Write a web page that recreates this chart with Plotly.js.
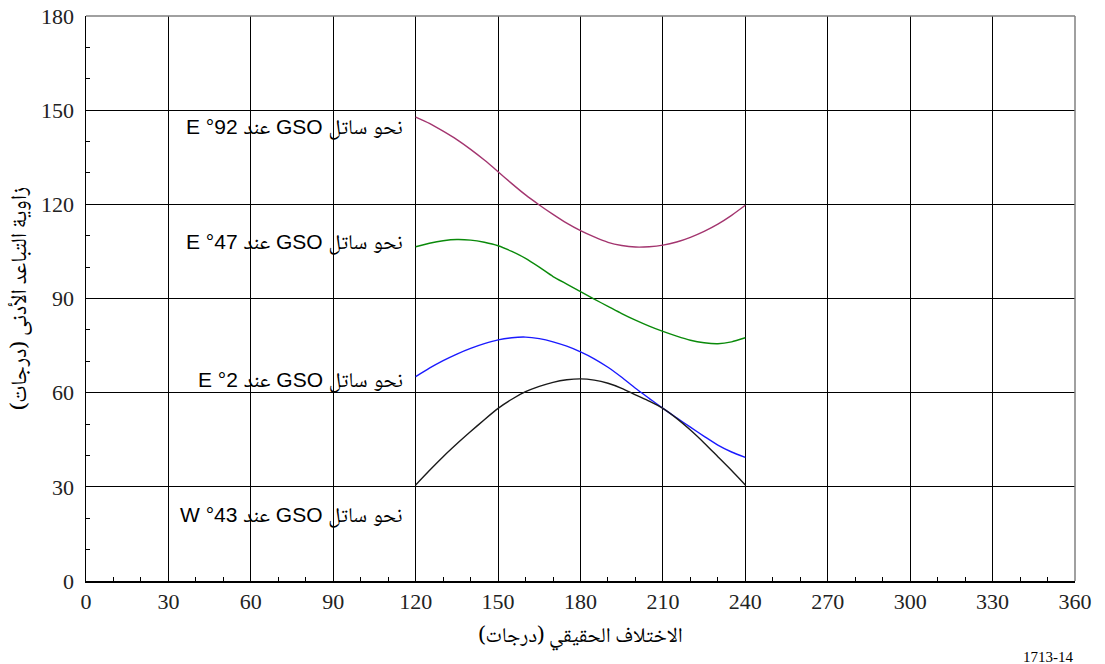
<!DOCTYPE html>
<html>
<head>
<meta charset="utf-8">
<script src="https://cdn.plot.ly/plotly-3.0.1.min.js"></script>
<style>html,body{margin:0;padding:0;background:#fff;}#chart{width:1105px;height:664px;}</style>
</head>
<body>
<div id="chart"></div>
<script>
// True anomaly (degrees)
const anomaly = [120, 125, 130, 135, 140, 145, 150, 155, 160, 165, 170, 175, 180, 185, 190, 195, 200, 205, 210, 215, 220, 225, 230, 235, 240];

// Minimum separation angle (degrees) towards each GSO satellite
const toward92E = [147.8, 145.8, 143.3, 140.6, 137.5, 134.1, 130.4, 126.6, 123.0, 119.8, 116.8, 114.0, 111.6, 109.6, 107.9, 106.9, 106.4, 106.5, 107.0, 108.0, 109.5, 111.4, 113.7, 116.5, 119.7];
const toward47E = [106.5, 107.6, 108.4, 108.8, 108.6, 107.9, 106.8, 105.0, 102.8, 100.0, 97.0, 94.6, 92.2, 89.8, 87.5, 85.2, 83.1, 81.2, 79.5, 78.0, 76.7, 75.9, 75.6, 76.2, 77.5];
const toward2E  = [65.1, 67.8, 70.2, 72.3, 74.1, 75.6, 76.8, 77.5, 77.7, 77.2, 76.2, 74.8, 73.0, 70.8, 68.1, 64.9, 61.4, 58.2, 55.0, 52.0, 49.0, 46.1, 43.3, 41.1, 39.4];
const toward43W = [30.6, 35.2, 39.6, 43.7, 47.6, 51.4, 55.0, 57.9, 60.3, 62.0, 63.3, 64.1, 64.4, 64.0, 63.0, 61.4, 59.3, 57.3, 55.0, 51.8, 48.1, 44.0, 39.6, 35.2, 30.6];

const seriesNames = ['نحو ساتل GSO عند 92° E', 'نحو ساتل GSO عند 47° E', 'نحو ساتل GSO عند 2° E', 'نحو ساتل GSO عند 43° W'];
const seriesLabelY = [144.6, 107.7, 64.0, 21.0];
const seriesColors = ['#A3356F', '#0A8A0A', '#1A1AFF', '#1A1A1A'];
const seriesData = [toward92E, toward47E, toward2E, toward43W];

const xTickVals = [0, 30, 60, 90, 120, 150, 180, 210, 240, 270, 300, 330, 360];
const yTickVals = [0, 30, 60, 90, 120, 150, 180];

const RLE = '\u202B', PDF = '\u202C';
const xTitle = 'الاختلاف الحقيقي (درجات)';
const yTitle = 'زاوية التباعد الأدنى (درجات)';
const figNote = '1713-14';

const arabicSerif = 'Noto Naskh Arabic, Noto Serif Arabic, Liberation Serif, DejaVu Sans, serif';

const traces = seriesData.map((ys, i) => ({
  x: anomaly, y: ys, type: 'scatter', mode: 'lines',
  line: {color: seriesColors[i], width: 1.4, shape: 'spline', smoothing: 0.6},
  name: seriesNames[i], showlegend: false, hoverinfo: 'skip'
}));

const annotations = seriesNames.map((t, i) => ({
  x: 116, y: seriesLabelY[i], xref: 'x', yref: 'y',
  text: RLE + t + PDF, showarrow: false, xanchor: 'right', yanchor: 'middle',
  font: {family: 'Liberation Sans, Noto Naskh Arabic, DejaVu Sans, sans-serif', size: 21, color: '#000'}
}));
annotations.push({
  x: 1, y: 0, xref: 'paper', yref: 'paper', yshift: -76, xanchor: 'right', yanchor: 'middle',
  text: figNote, showarrow: false,
  font: {family: 'Liberation Serif, serif', size: 15, color: '#000'}
});

const layout = {
  width: 1105, height: 664,
  margin: {l: 86, r: 30, t: 16, b: 83},
  paper_bgcolor: '#fff', plot_bgcolor: '#fff',
  showlegend: false,
  font: {family: 'Liberation Serif, DejaVu Sans, serif', color: '#000'},
  xaxis: {
    range: [0, 360], tickvals: xTickVals, ticktext: xTickVals.map(String),
    showgrid: true, gridcolor: '#000', gridwidth: 1,
    zeroline: false, showline: true, linecolor: '#000', linewidth: 1.5,
    ticks: 'inside', ticklen: 5, tickcolor: '#000',
    minor: {dtick: 10, tick0: 0, ticks: 'inside', ticklen: 4, tickcolor: '#000', showgrid: false},
    tickfont: {family: 'Liberation Serif, serif', size: 22, color: '#222'},
    title: {text: RLE + xTitle + PDF, standoff: 14, font: {family: arabicSerif, size: 21, color: '#000'}},
    fixedrange: true
  },
  yaxis: {
    range: [0, 180], tickvals: yTickVals, ticktext: yTickVals.map(String),
    showgrid: true, gridcolor: '#000', gridwidth: 1,
    zeroline: false, showline: true, linecolor: '#000', linewidth: 1.5,
    ticks: 'inside', ticklen: 5, tickcolor: '#000',
    minor: {dtick: 10, tick0: 0, ticks: 'inside', ticklen: 4, tickcolor: '#000', showgrid: false},
    tickfont: {family: 'Liberation Serif, serif', size: 22, color: '#222'},
    ticklabelstandoff: 6,
    title: {text: RLE + yTitle + PDF, standoff: 8, font: {family: arabicSerif, size: 22, color: '#000'}},
    fixedrange: true
  },
  shapes: [
    {type: 'line', xref: 'paper', yref: 'paper', x0: 0, x1: 1, y0: 1, y1: 1, line: {color: '#808080', width: 1.5}},
    {type: 'line', xref: 'paper', yref: 'paper', x0: 1, x1: 1, y0: 0, y1: 1, line: {color: '#808080', width: 1.5}}
  ],
  annotations: annotations
};

Plotly.newPlot('chart', traces, layout, {staticPlot: true, displayModeBar: false});
</script>
</body>
</html>
